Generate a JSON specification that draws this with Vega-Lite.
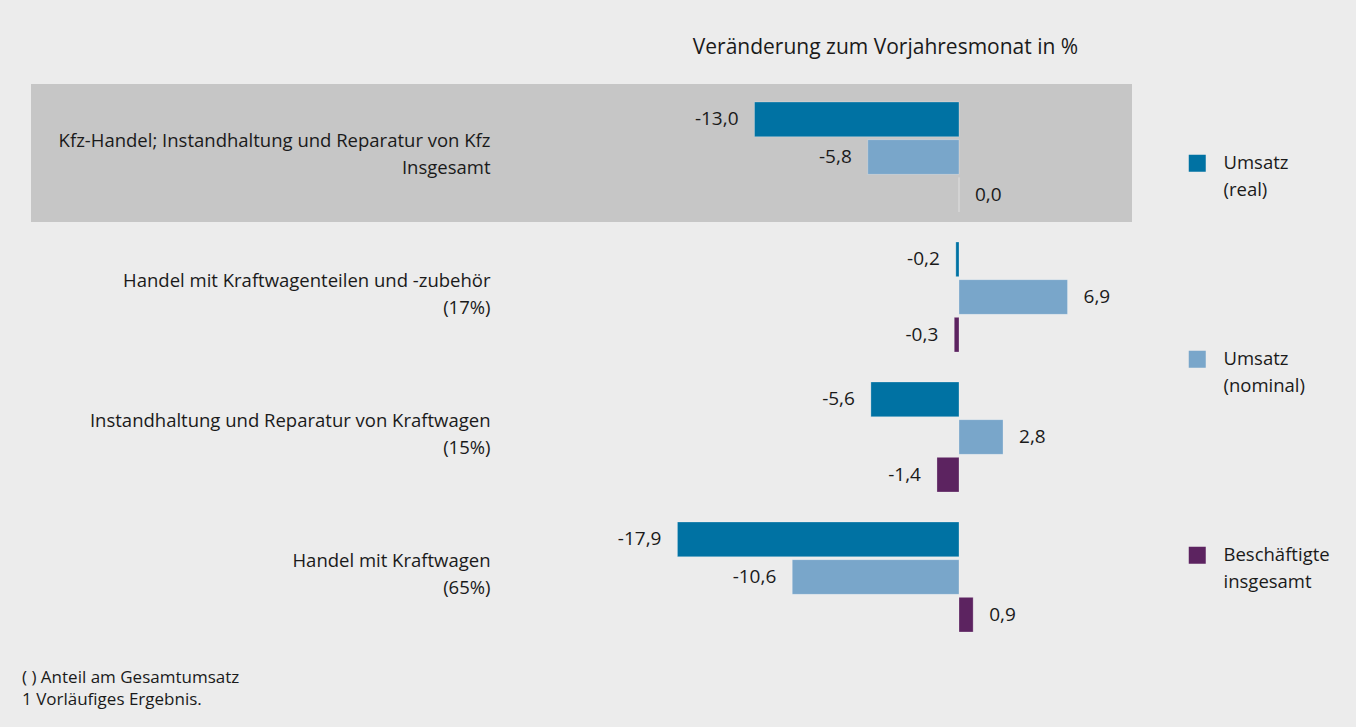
{
  "$schema": "https://vega.github.io/schema/vega-lite/v6.json",
  "width": 1101,
  "height": 558,
  "autosize": {"type": "none"},
  "padding": {"left": 31, "top": 84, "right": 224, "bottom": 85},
  "background": "#ececec",
  "config": {
    "font": "Open Sans",
    "view": {"stroke": null},
    "style": {"guide-label": {"lineHeight": 27}},
    "locale": {"number": {"decimal": ",", "thousands": ".", "grouping": [3], "currency": ["", " €"], "minus": "-"}}
  },
  "title": {
    "text": ["( ) Anteil am Gesamtumsatz", "1 Vorläufiges Ergebnis."],
    "orient": "bottom",
    "anchor": "start",
    "frame": "group",
    "dx": -9,
    "offset": 28,
    "fontSize": 17,
    "fontWeight": "normal",
    "lineHeight": 22,
    "color": "#1a1a1a",
    "font": "Open Sans"
  },
  "data": {
    "values": [
      {"cat": "Kfz-Handel; Instandhaltung und Reparatur von Kfz|Insgesamt", "series": "Umsatz (real)", "value": -13.0},
      {"cat": "Kfz-Handel; Instandhaltung und Reparatur von Kfz|Insgesamt", "series": "Umsatz (nominal)", "value": -5.8},
      {"cat": "Kfz-Handel; Instandhaltung und Reparatur von Kfz|Insgesamt", "series": "Beschäftigte insgesamt", "value": 0.0},
      {"cat": "Handel mit Kraftwagenteilen und -zubehör|(17%)", "series": "Umsatz (real)", "value": -0.2},
      {"cat": "Handel mit Kraftwagenteilen und -zubehör|(17%)", "series": "Umsatz (nominal)", "value": 6.9},
      {"cat": "Handel mit Kraftwagenteilen und -zubehör|(17%)", "series": "Beschäftigte insgesamt", "value": -0.3},
      {"cat": "Instandhaltung und Reparatur von Kraftwagen|(15%)", "series": "Umsatz (real)", "value": -5.6},
      {"cat": "Instandhaltung und Reparatur von Kraftwagen|(15%)", "series": "Umsatz (nominal)", "value": 2.8},
      {"cat": "Instandhaltung und Reparatur von Kraftwagen|(15%)", "series": "Beschäftigte insgesamt", "value": -1.4},
      {"cat": "Handel mit Kraftwagen|(65%)", "series": "Umsatz (real)", "value": -17.9},
      {"cat": "Handel mit Kraftwagen|(65%)", "series": "Umsatz (nominal)", "value": -10.6},
      {"cat": "Handel mit Kraftwagen|(65%)", "series": "Beschäftigte insgesamt", "value": 0.9}
    ]
  },
  "encoding": {
    "y": {
      "field": "cat",
      "type": "nominal",
      "sort": null,
      "scale": {"paddingInner": 0.0143, "paddingOuter": 0},
      "axis": {
        "title": null,
        "orient": "left",
        "offset": -459,
        "ticks": false,
        "domain": false,
        "labelPadding": 0,
        "labelOffset": 2,
        "labelExpr": "split(datum.label, '|')",
        "labelLineHeight": 27,
        "labelBaseline": "line-bottom",
        "labelFontSize": 18.5,
        "labelColor": "#1a1a1a",
        "labelFont": "Open Sans",
        "labelLimit": 0
      }
    }
  },
  "layer": [
    {
      "transform": [{"filter": "indexof(datum.cat, 'Kfz-Handel') == 0"}],
      "mark": {"type": "rect", "color": "#c6c6c6"},
      "encoding": {}
    },
    {
      "mark": {"type": "bar", "stroke": "#ffffff", "strokeOpacity": 0.25, "strokeWidth": 1},
      "encoding": {
        "x": {
          "field": "value",
          "type": "quantitative",
          "scale": {"domain": [-59, 11], "nice": false, "zero": false},
          "axis": {
            "orient": "top",
            "labels": false,
            "ticks": false,
            "domain": false,
            "grid": false,
            "title": "Veränderung zum Vorjahresmonat in %",
            "titleX": 854,
            "titleY": -37,
            "titleBaseline": "middle",
            "titleAlign": "center",
            "titleFontSize": 21,
            "titleFontWeight": "normal",
            "titleColor": "#1a1a1a",
            "titleFont": "Open Sans"
          }
        },
        "yOffset": {
          "field": "series",
          "type": "nominal",
          "sort": ["Umsatz (real)", "Umsatz (nominal)", "Beschäftigte insgesamt"],
          "scale": {"range": [18, 128], "paddingInner": 0.08, "paddingOuter": 0}
        },
        "color": {
          "field": "series",
          "type": "nominal",
          "sort": ["Umsatz (real)", "Umsatz (nominal)", "Beschäftigte insgesamt"],
          "scale": {
            "domain": ["Umsatz (real)", "Umsatz (nominal)", "Beschäftigte insgesamt"],
            "range": ["#0072a3", "#79a6ca", "#5c2360"]
          },
          "legend": {
            "title": null,
            "orient": "none",
            "legendX": 1157,
            "legendY": 70,
            "symbolType": "square",
            "symbolSize": 289,
            "symbolStrokeWidth": 0,
            "symbolOpacity": 1,
            "labelExpr": "split(datum.label, ' ')",
            "labelFontSize": 18.5,
            "labelBaseline": "middle",
            "labelOffset": 17,
            "labelColor": "#1a1a1a",
            "labelFont": "Open Sans",
            "rowPadding": 150,
            "labelLimit": 0
          }
        }
      }
    },
    {
      "mark": {"type": "rule", "color": "#a0a0a0", "strokeWidth": 1.5},
      "encoding": {"x": {"datum": 0, "type": "quantitative"}}
    },
    {
      "transform": [{"filter": "datum.value < 0"}],
      "mark": {"type": "text", "align": "right", "dx": -16, "fontSize": 19, "color": "#1a1a1a", "baseline": "middle"},
      "encoding": {
        "x": {"field": "value", "type": "quantitative"},
        "yOffset": {"field": "series", "type": "nominal", "sort": ["Umsatz (real)", "Umsatz (nominal)", "Beschäftigte insgesamt"]},
        "text": {"field": "value", "type": "quantitative", "format": ".1f"}
      }
    },
    {
      "transform": [{"filter": "datum.value >= 0"}],
      "mark": {"type": "text", "align": "left", "dx": 16, "fontSize": 19, "color": "#1a1a1a", "baseline": "middle"},
      "encoding": {
        "x": {"field": "value", "type": "quantitative"},
        "yOffset": {"field": "series", "type": "nominal", "sort": ["Umsatz (real)", "Umsatz (nominal)", "Beschäftigte insgesamt"]},
        "text": {"field": "value", "type": "quantitative", "format": ".1f"}
      }
    }
  ]
}
